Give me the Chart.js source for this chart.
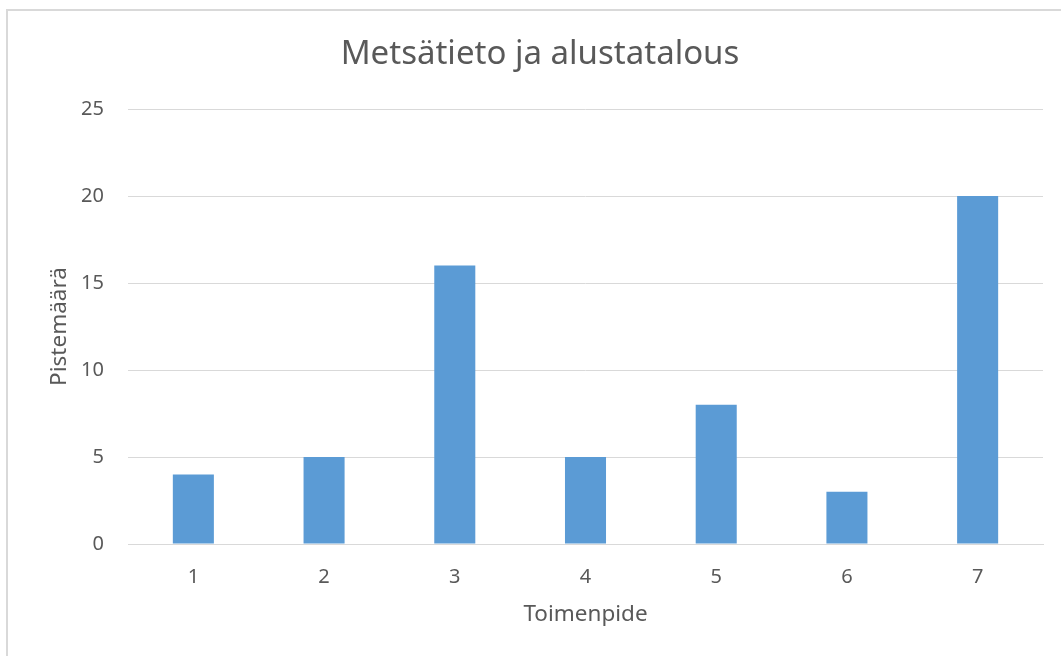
<!DOCTYPE html>
<html>
<head>
<meta charset="utf-8">
<script src="https://cdn.jsdelivr.net/npm/chart.js@4"></script>
<style>
  html, body { margin: 0; padding: 0; background: #fff; overflow: hidden; }
  #wrap { position: relative; width: 1061px; height: 656px; }
  #frame { position: absolute; left: 6px; top: 9px; right: -10px; bottom: -10px; border: 2px solid #d9d9d9; }
</style>
</head>
<body>
<div id="wrap">
  <div id="frame"></div>
  <canvas id="chart"></canvas>
</div>
<script>
const categories = ["1", "2", "3", "4", "5", "6", "7"];
const scores = [4, 5, 16, 5, 8, 3, 20];
const yTicks = [0, 5, 10, 15, 20, 25];

const textColor = "#595959";
const gridColor = "#d9d9d9";
const fontFamily = "'Noto Sans', sans-serif";

const ctx = document.getElementById("chart").getContext("2d");
new Chart(ctx, {
  type: "bar",
  data: {
    labels: categories,
    datasets: [{
      label: "Pistemäärä",
      data: scores,
      backgroundColor: "#5b9bd5",
      barPercentage: 0.314,
      categoryPercentage: 1
    }]
  },
  options: {
    responsive: true,
    maintainAspectRatio: false,
    animation: false,
    layout: { padding: { left: 37, right: 18, top: 0, bottom: 0 } },
    plugins: {
      legend: { display: false },
      tooltip: { enabled: false },
      title: {
        display: true,
        text: "Metsätieto ja alustatalous",
        color: textColor,
        font: { family: fontFamily, size: 33, weight: "normal" },
        padding: { top: 35.2, bottom: 34.2 }
      }
    },
    scales: {
      x: {
        grid: { display: false, drawTicks: false },
        border: { color: gridColor, width: 1 },
        ticks: { color: textColor, padding: 21, font: { family: fontFamily, size: 20 } },
        title: {
          display: true,
          text: "Toimenpide",
          color: textColor,
          font: { family: fontFamily, size: 22.5 },
          padding: { top: 0, bottom: 27.5 }
        },
        afterFit: (scale) => { scale.height = 112; }
      },
      y: {
        min: 0,
        max: 25,
        afterBuildTicks: (scale) => { scale.ticks = yTicks.map((v) => ({ value: v })); },
        grid: { color: gridColor, lineWidth: 1, drawTicks: false },
        border: { display: false },
        ticks: { color: textColor, padding: 24, font: { family: fontFamily, size: 20 } },
        title: {
          display: true,
          text: "Pistemäärä",
          color: textColor,
          font: { family: fontFamily, size: 22.5 },
          padding: { top: 9.5, bottom: 0 }
        },
        afterFit: (scale) => { scale.width = 91; }
      }
    }
  }
});
</script>
</body>
</html>
